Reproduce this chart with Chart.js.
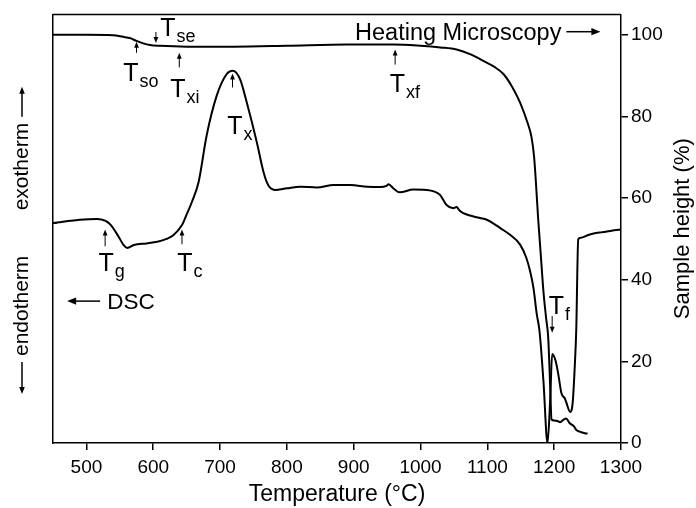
<!DOCTYPE html>
<html>
<head>
<meta charset="utf-8">
<script src="https://cdn.jsdelivr.net/npm/chart.js@4.4.1/dist/chart.umd.min.js"></script>
<style>
  body { margin: 0; background: #fff; }
  canvas { display: block; }
</style>
</head>
<body>
<canvas id="chart" width="696" height="508"></canvas>
<script>
// heating microscopy: sample height (%) vs temperature
const hmTemps = [450, 500, 540, 555, 565, 575, 585, 595, 610, 650, 720, 800, 890, 960, 1000, 1030, 1054, 1075, 1094, 1110, 1124, 1137, 1149, 1160, 1166, 1170, 1173, 1176, 1180, 1184, 1188, 1191, 1194, 1196, 1200, 1205, 1209, 1214, 1218, 1223, 1230, 1233, 1238, 1246, 1250];
const hmHeight = [100, 100, 99.9, 99.5, 99.2, 98.5, 97.9, 97.5, 97.3, 97.1, 97.1, 97.3, 97.6, 97.6, 97.3, 96.9, 96.4, 95.2, 93.6, 92.2, 90.4, 87.3, 83.4, 78.5, 75, 70, 63, 55, 46, 37, 30.5, 26, 14, 5.8, 5.5, 5.4, 5.1, 5.7, 6.0, 4.9, 4.0, 3.2, 2.8, 2.4, 2.3];

// DSC trace (arbitrary units, plotted on the same 0-105 range)
const dscTemps = [450, 470, 490, 516, 528, 536, 548, 556, 561, 571, 590, 606, 620, 630, 643, 650, 658, 668, 680, 695, 710, 719, 730, 740, 755, 765, 772, 782, 800, 820, 845, 870, 895, 920, 940, 949, 952, 960, 969, 989, 1009, 1029, 1039, 1049, 1054, 1058, 1064, 1077, 1089, 1099, 1110, 1119, 1134, 1149, 1158, 1164, 1169, 1174, 1178, 1184, 1190, 1194, 1197, 1202, 1206, 1211, 1216, 1218, 1224, 1226, 1228, 1231, 1233, 1236, 1240, 1250, 1259, 1270, 1279, 1290, 1300];
const dscSignal = [53.9, 54.3, 54.7, 54.9, 54.5, 53.5, 50.6, 48.4, 47.8, 48.5, 48.9, 49.3, 50.0, 50.9, 53.4, 56, 59.1, 64, 75.4, 85.1, 90.4, 91.2, 89.1, 83.4, 73.7, 66.4, 63.2, 62.0, 62.4, 62.8, 62.6, 63.2, 63.2, 62.8, 62.7, 63.0, 63.4, 62.3, 61.4, 62.1, 62.0, 60.8, 58.3, 57.5, 57.8, 57.0, 56.3, 55.6, 55.1, 54.7, 53.7, 52.7, 51.0, 48.6, 45.5, 42.1, 38, 31.5, 27.5, 15, 0, 10.5, 21.8, 20.2, 17, 12.1, 10.9, 10, 7.6, 8, 10.5, 19.4, 27.5, 49.9, 50.3, 50.9, 51.3, 51.6, 51.8, 52.1, 52.3];

const xTicks = [500, 600, 700, 800, 900, 1000, 1100, 1200, 1300];
const yTicks = [0, 20, 40, 60, 80, 100];

// characteristic temperatures: arrow at t from y1 (tail) to y2 (head), label at (lx, ly)
const marks = [
  { sub: 'so', t: 575, y1: 95.6, y2: 98.3, lx: 555, ly: 88.8 },
  { sub: 'se', t: 604, y1: 100.7, y2: 98.0, lx: 610.6, ly: 99.8 },
  { sub: 'xi', t: 639, y1: 92.0, y2: 95.6, lx: 625.6, ly: 84.7 },
  { sub: 'x', t: 718.6, y1: 87.1, y2: 90.5, lx: 710.7, ly: 75.7 },
  { sub: 'xf', t: 962, y1: 92.7, y2: 96.4, lx: 954, ly: 85.9 },
  { sub: 'g', t: 528, y1: 48.2, y2: 52.3, lx: 518, ly: 42.1 },
  { sub: 'c', t: 643, y1: 48.7, y2: 52.3, lx: 636, ly: 42.1 },
  { sub: 'f', t: 1197, y1: 31.1, y2: 27.0, lx: 1192, ly: 31.6 }
];

const FONT = '"Liberation Sans", Arial, Helvetica, sans-serif';

function arrow(ctx, x1, y1, x2, y2, head) {
  const a = Math.atan2(y2 - y1, x2 - x1);
  ctx.beginPath();
  ctx.moveTo(x1, y1);
  ctx.lineTo(x2 - Math.cos(a) * head * 0.8, y2 - Math.sin(a) * head * 0.8);
  ctx.stroke();
  ctx.beginPath();
  ctx.moveTo(x2, y2);
  ctx.lineTo(x2 - head * Math.cos(a) + head * 0.4 * Math.sin(a), y2 - head * Math.sin(a) - head * 0.4 * Math.cos(a));
  ctx.lineTo(x2 - head * Math.cos(a) - head * 0.4 * Math.sin(a), y2 - head * Math.sin(a) + head * 0.4 * Math.cos(a));
  ctx.closePath();
  ctx.fill();
}

const decorations = {
  id: 'decorations',
  afterDraw(chart) {
    const { ctx, chartArea: area } = chart;
    const xs = chart.scales.x, ys = chart.scales.y;
    ctx.save();
    ctx.strokeStyle = '#000';
    ctx.fillStyle = '#000';

    // top frame line
    ctx.lineWidth = 1.5;
    ctx.beginPath();
    ctx.moveTo(area.left, area.top);
    ctx.lineTo(area.right, area.top);
    ctx.stroke();

    // small inward tick on the left axis at the DSC start level
    const t0 = chart.scales.y2.getPixelForValue(dscSignal[0]);
    ctx.beginPath();
    ctx.moveTo(area.left, t0);
    ctx.lineTo(area.left + 4, t0);
    ctx.stroke();

    // T markers
    ctx.lineWidth = 1;
    marks.forEach(m => {
      const px = xs.getPixelForValue(m.t);
      arrow(ctx, px, ys.getPixelForValue(m.y1), px, ys.getPixelForValue(m.y2), 6);
      const lx = xs.getPixelForValue(m.lx), ly = ys.getPixelForValue(m.ly);
      ctx.textAlign = 'left';
      ctx.textBaseline = 'alphabetic';
      ctx.font = '25px ' + FONT;
      ctx.fillText('T', lx, ly);
      const w = ctx.measureText('T').width;
      ctx.font = '18px ' + FONT;
      ctx.fillText(m.sub, lx + w + 1, ly + 6);
    });

    // series labels
    ctx.font = '23.5px ' + FONT;
    ctx.lineWidth = 1.5;
    const hx = xs.getPixelForValue(902), hy = ys.getPixelForValue(98.8);
    ctx.fillText('Heating Microscopy', hx, hy);
    const hw = ctx.measureText('Heating Microscopy').width;
    arrow(ctx, hx + hw + 5, hy - 8, hx + hw + 39, hy - 8, 9);

    ctx.font = '22.5px ' + FONT;
    const dx = xs.getPixelForValue(531), dy = ys.getPixelForValue(32.8);
    ctx.fillText('DSC', dx, dy);
    arrow(ctx, dx - 7, dy - 8, dx - 40, dy - 8, 9);

    // right axis title, reading upward
    ctx.font = '22px ' + FONT;
    ctx.textAlign = 'center';
    ctx.textBaseline = 'middle';
    ctx.save();
    ctx.translate(683, (area.top + area.bottom) / 2);
    ctx.rotate(-Math.PI / 2);
    ctx.fillText('Sample height (%)', 0, 0);
    ctx.restore();

    // exotherm / endotherm on the left side
    ctx.font = '21px ' + FONT;
    const cx = 22;
    const exoY = area.top + area.height * 0.355;
    const endoY = area.top + area.height * 0.68;
    ctx.save();
    ctx.translate(cx, exoY);
    ctx.rotate(-Math.PI / 2);
    ctx.fillText('exotherm', 0, 0);
    const ew = ctx.measureText('exotherm').width;
    arrow(ctx, ew / 2 + 6, 0, ew / 2 + 36, 0, 7);
    ctx.restore();
    ctx.save();
    ctx.translate(cx, endoY);
    ctx.rotate(-Math.PI / 2);
    ctx.fillText('endotherm', 0, 0);
    const nw = ctx.measureText('endotherm').width;
    arrow(ctx, -nw / 2 - 6, 0, -nw / 2 - 38, 0, 7);
    ctx.restore();

    ctx.restore();
  }
};

const axisGrid = { drawOnChartArea: false, drawTicks: true, tickLength: 7, color: '#000', lineWidth: 1.5 };
const axisBorder = { display: true, color: '#000', width: 1.5 };

new Chart(document.getElementById('chart'), {
  type: 'line',
  data: {
    datasets: [
      {
        label: 'Heating Microscopy',
        data: hmTemps.map((t, i) => ({ x: t, y: hmHeight[i] })),
        yAxisID: 'y',
        borderColor: '#000',
        borderWidth: 2,
        pointRadius: 0,
        cubicInterpolationMode: 'monotone',
        fill: false
      },
      {
        label: 'DSC',
        data: dscTemps.map((t, i) => ({ x: t, y: dscSignal[i] })),
        yAxisID: 'y2',
        borderColor: '#000',
        borderWidth: 2,
        pointRadius: 0,
        cubicInterpolationMode: 'monotone',
        fill: false
      }
    ]
  },
  options: {
    responsive: false,
    animation: false,
    layout: { padding: { top: 12, left: 0, right: 0, bottom: 0 } },
    plugins: { legend: { display: false }, tooltip: { enabled: false } },
    scales: {
      x: {
        type: 'linear',
        min: 450,
        max: 1300,
        afterBuildTicks: s => { s.ticks = xTicks.map(v => ({ value: v })); },
        afterFit: s => { s.height = 65; },
        ticks: { color: '#000', font: { family: FONT, size: 19 }, padding: 6, maxRotation: 0, autoSkip: false, callback: v => String(v) },
        grid: axisGrid,
        border: axisBorder,
        title: { display: true, text: 'Temperature (°C)', color: '#000', font: { family: FONT, size: 23 }, padding: { top: 0, bottom: 0 } }
      },
      y: {
        position: 'right',
        min: 0,
        max: 105,
        afterBuildTicks: s => { s.ticks = yTicks.map(v => ({ value: v })); },
        afterFit: s => { s.width = 75; },
        ticks: { color: '#000', font: { family: FONT, size: 19 }, padding: 3, callback: v => String(v) },
        grid: axisGrid,
        border: axisBorder
      },
      y2: {
        position: 'left',
        min: 0,
        max: 105,
        afterFit: s => { s.width = 53; },
        ticks: { display: false },
        grid: { display: false },
        border: axisBorder
      }
    }
  },
  plugins: [decorations]
});
</script>
</body>
</html>
